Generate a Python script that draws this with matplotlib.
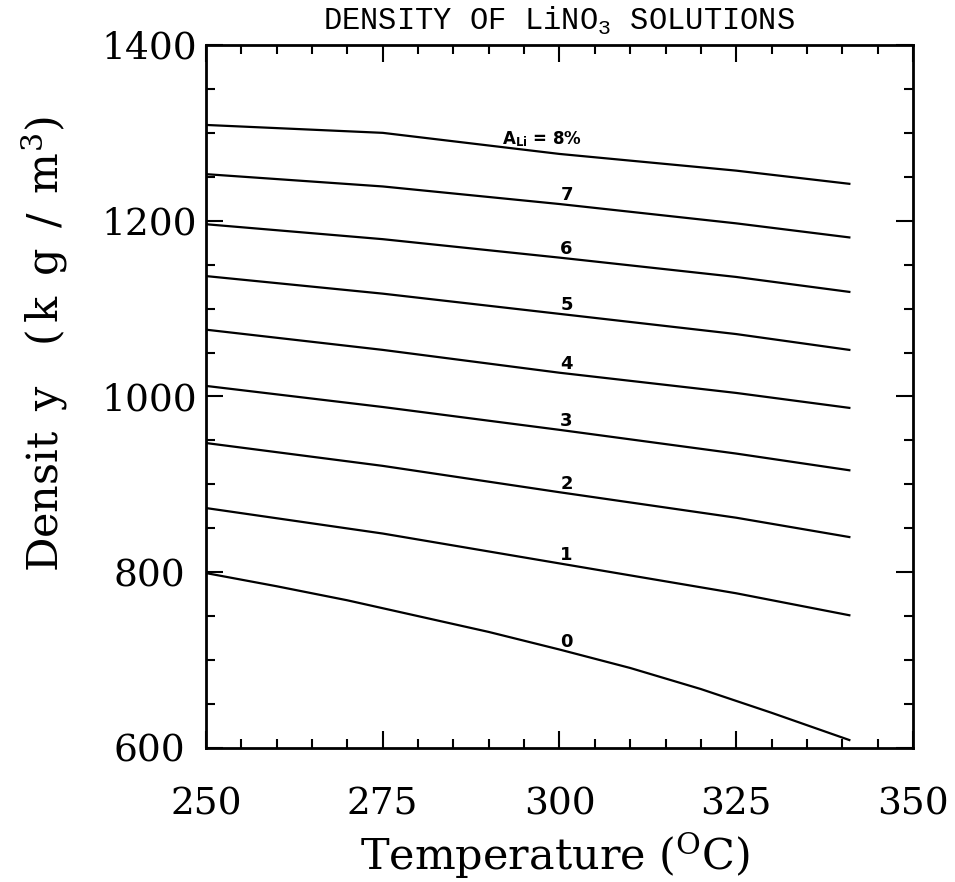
import numpy as np
import matplotlib
matplotlib.use('Agg')
import matplotlib.pyplot as plt
from matplotlib.ticker import MultipleLocator

plt.rcParams['font.family'] = ['DejaVu Serif']
plt.rcParams['mathtext.fontset'] = 'dejavuserif'

temps = [250, 275, 300, 325, 341]
# pure water curve (0 %) needs more points, it bends near the end
temps0 = [250, 260, 270, 280, 290, 300, 310, 320, 330, 341]

# density (kg/m3) for each Li concentration
dens = {
    '8': [1309, 1300, 1276, 1257, 1242],
    '7': [1253, 1239, 1219, 1197, 1181],
    '6': [1196, 1179, 1158, 1136, 1119],
    '5': [1137, 1117, 1094, 1071, 1053],
    '4': [1076, 1053, 1027, 1004, 987],
    '3': [1012, 988, 962, 935, 916],
    '2': [947, 921, 891, 862, 840],
    '1': [873, 844, 810, 776, 751],
}
dens0 = [799, 784, 768, 750, 732, 712, 691, 667, 640, 609]

curve_labels = ['0', '1', '2', '3', '4', '5', '6', '7']
label_T = 301

fig = plt.figure(figsize=(9.55, 8.82), dpi=100)
ax = fig.add_axes([0.2157, 0.152, 0.7403, 0.797])

ax.plot(temps0, dens0, color='black', lw=1.6)
for k, v in dens.items():
    ax.plot(temps, v, color='black', lw=1.6)

# curve labels sit just above each line
for lbl in curve_labels:
    if lbl == '0':
        yv = np.interp(label_T, temps0, dens0)
    else:
        yv = np.interp(label_T, temps, dens[lbl])
    ax.annotate(lbl, (label_T, yv), xytext=(0, 0.5), textcoords='offset points',
                ha='center', va='bottom', fontsize=13, fontweight='bold',
                family='DejaVu Sans')
yv = np.interp(297.5, temps, dens['8'])
ax.annotate(r'A$_{\mathregular{Li}}$ = 8%', (297.5, yv), xytext=(0, 2),
            textcoords='offset points', ha='center', va='bottom',
            fontsize=12, fontweight='bold', family='DejaVu Sans')

ax.set_xlim(250, 350)
ax.set_ylim(600, 1400)
ax.xaxis.set_major_locator(MultipleLocator(25))
ax.xaxis.set_minor_locator(MultipleLocator(5))
ax.yaxis.set_major_locator(MultipleLocator(200))
ax.yaxis.set_minor_locator(MultipleLocator(50))

ax.tick_params(which='both', direction='in', top=True, right=True, width=1.5)
ax.tick_params(which='major', length=12)
ax.tick_params(which='minor', length=6.5)
ax.tick_params(axis='x', which='major', labelsize=27, pad=28)
ax.tick_params(axis='y', which='major', labelsize=27, pad=41)
for t in ax.get_yticklabels():
    t.set_ha('center')
for s in ax.spines.values():
    s.set_linewidth(2)

ax.set_xlabel(r'Temperature ($^{\mathregular{O}}$C)', fontsize=31, va='center')
ax.xaxis.set_label_coords(0.494, -0.153)
ax.set_ylabel(r'Densit$\enspace$y$\quad$($\,$k$\enspace$g$\enspace$/$\enspace$m$^{\mathregular{3}}$)',
              fontsize=31, va='center')
ax.yaxis.set_label_coords(-0.228, 0.575)

ax.set_title(r'DENSITY OF LiNO$_\mathregular{3}$ SOLUTIONS', family='Liberation Mono',
             fontsize=22, pad=11)

fig.savefig('out.png', dpi=100)
